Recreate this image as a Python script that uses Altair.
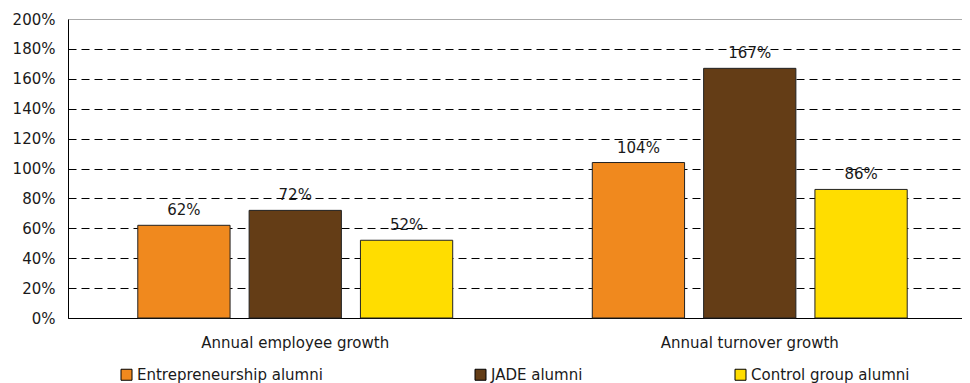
import altair as alt
import pandas as pd

categories = ["Annual employee growth", "Annual turnover growth"]
series = ["Entrepreneurship alumni", "JADE alumni", "Control group alumni"]
values = {
    "Entrepreneurship alumni": [0.62, 1.04],
    "JADE alumni": [0.72, 1.67],
    "Control group alumni": [0.52, 0.86],
}
colors = ["#F0891E", "#643D16", "#FFDD00"]
y_ticks = [0, 0.2, 0.4, 0.6, 0.8, 1.0, 1.2, 1.4, 1.6, 1.8, 2.0]

rows = []
for s in series:
    for c, v in zip(categories, values[s]):
        rows.append({"category": c, "series": s, "value": v})
df = pd.DataFrame(rows)

FONT = "DejaVu Sans"
FS = 15
TXT = "#1a1a1a"

x = alt.X("category:N", sort=categories, title=None,
          scale=alt.Scale(paddingInner=0, paddingOuter=0, range=[0, 909]),
          axis=alt.Axis(labelAngle=0, ticks=False, domainColor="black", domainWidth=1,
                        labelFont=FONT, labelFontSize=FS, labelColor=TXT, labelPadding=17,
                        labelLimit=600, labelOverlap=False))
xo = alt.XOffset("series:N", sort=series,
                 scale=alt.Scale(paddingInner=0.171, paddingOuter=0.627))
y = alt.Y("value:Q", title=None,
          scale=alt.Scale(domain=[0, 2], nice=False),
          axis=alt.Axis(values=y_ticks, format=".0%", ticks=False, domainColor="black",
                        domainWidth=1, labelFont=FONT, labelFontSize=FS, labelColor=TXT,
                        labelPadding=13, labelOverlap=False,
                        gridColor={"condition": {"test": "datum.value >= 2", "value": "#999999"}, "value": "black"},
                        gridDash={"condition": {"test": "datum.value >= 2", "value": [1, 0]}, "value": [8, 5]},
                        gridWidth=1, gridOpacity=1))

base = alt.Chart(df).encode(x=x, xOffset=xo, y=y)

bars = base.mark_bar(stroke="#222222", strokeWidth=1).encode(
    color=alt.Color("series:N", sort=series,
                    scale=alt.Scale(domain=series, range=colors),
                    legend=alt.Legend(title=None, orient="none", legendX=51, legendY=348,
                                      direction="horizontal", columns=3, columnPadding=150,
                                      symbolType="square", symbolSize=121,
                                      symbolStrokeColor="black", symbolStrokeWidth=1,
                                      symbolOpacity=1, labelFont=FONT, labelFontSize=FS,
                                      labelColor=TXT, labelOffset=3, padding=0,
                                      labelLimit=400)),
)

labels = base.mark_text(font=FONT, fontSize=FS, color=TXT, dy=-10, baseline="alphabetic").encode(
    text=alt.Text("value:Q", format=".0%"),
)

chart = alt.layer(bars, labels).properties(
    width=894, height=299,
    autosize=alt.AutoSizeParams(type="none"),
    padding={"left": 60, "top": 11, "right": 0, "bottom": 66},
).configure_view(stroke=None).configure(background="white")

chart.save("out.html", embed_options={"renderer": "svg", "actions": False})
